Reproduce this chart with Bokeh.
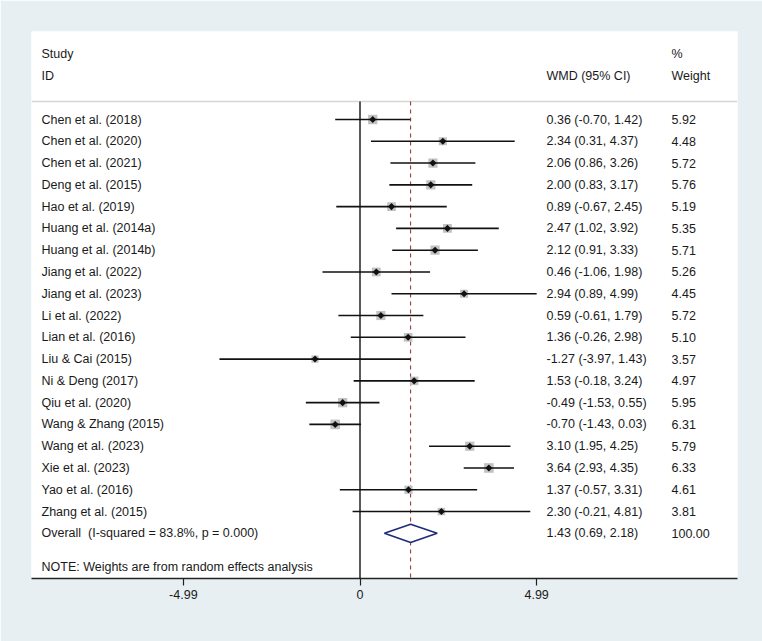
import numpy as np
from bokeh.plotting import figure
from bokeh.models import ColumnDataSource, Range1d, LinearAxis, FixedTicker
from bokeh.core.properties import value
from bokeh.embed import file_html
from bokeh.resources import INLINE

studies = ["Chen et al. (2018)", "Chen et al. (2020)", "Chen et al. (2021)", "Deng et al. (2015)",
           "Hao et al. (2019)", "Huang et al. (2014a)", "Huang et al. (2014b)", "Jiang et al. (2022)",
           "Jiang et al. (2023)", "Li et al. (2022)", "Lian et al. (2016)", "Liu & Cai (2015)",
           "Ni & Deng (2017)", "Qiu et al. (2020)", "Wang & Zhang (2015)", "Wang et al. (2023)",
           "Xie et al. (2023)", "Yao et al. (2016)", "Zhang et al. (2015)"]
wmd = [0.36, 2.34, 2.06, 2.00, 0.89, 2.47, 2.12, 0.46, 2.94, 0.59, 1.36, -1.27, 1.53, -0.49, -0.70, 3.10, 3.64, 1.37, 2.30]
lower = [-0.70, 0.31, 0.86, 0.83, -0.67, 1.02, 0.91, -1.06, 0.89, -0.61, -0.26, -3.97, -0.18, -1.53, -1.43, 1.95, 2.93, -0.57, -0.21]
upper = [1.42, 4.37, 3.26, 3.17, 2.45, 3.92, 3.33, 1.98, 4.99, 1.79, 2.98, 1.43, 3.24, 0.55, 0.03, 4.25, 4.35, 3.31, 4.81]
weight = [5.92, 4.48, 5.72, 5.76, 5.19, 5.35, 5.71, 5.26, 4.45, 5.72, 5.10, 3.57, 4.97, 5.95, 6.31, 5.79, 6.33, 4.61, 3.81]
overall_label = "Overall\u00a0 (I-squared = 83.8%, p = 0.000)"
overall_wmd, overall_lo, overall_hi, overall_w = 1.43, 0.69, 2.18, 100.00
note = "NOTE: Weights are from random effects analysis"
ticks = [-4.99, 0, 4.99]

FONT = "Liberation Sans"
FS = "12.5px"
TXT = "#1a1a1a"
BG = "#e8eff2"

n = len(studies)
rows = list(range(n))
overall_row = n

# x mapping: frame 31..737 px, zero at 359.5, 35.4 px per unit
pxu = 35.4
x0 = 359.5
xl = (31 - x0) / pxu
xr = (737 - x0) / pxu
# y mapping: row 0 at px 119, spacing 21.78
ry = 21.78
y_top = (31 - 119) / ry
y_bot = (578 - 119) / ry

p = figure(width=762, height=641, output_backend="svg", toolbar_location=None,
           x_range=Range1d(xl, xr), y_range=Range1d(y_bot, y_top),
           x_axis_type=None, y_axis_type=None,
           min_border_left=31, min_border_right=25, min_border_top=31, min_border_bottom=63)
p.border_fill_color = BG
p.background_fill_color = "white"
p.outline_line_color = None
p.grid.visible = False

col_study = (41 - x0) / pxu
col_wmd = (546 - x0) / pxu
col_w = (671 - x0) / pxu
y_sep = (101 - 119) / ry
y_h1 = (53 - 119) / ry
y_h2 = (75 - 119) / ry
y_note = (566 - 119) / ry

# separator
p.segment(x0=[xl], x1=[xr], y0=[y_sep], y1=[y_sep], line_color="#d6d6d6", line_width=1.5)
# zero line
p.segment(x0=[0], x1=[0], y0=[y_sep], y1=[y_bot], line_color="#222222", line_width=1.5)
# overall dashed line
p.segment(x0=[overall_wmd], x1=[overall_wmd], y0=[y_sep], y1=[y_bot], line_color="#8b2a2a",
          line_width=1, line_dash="4 4")

src = ColumnDataSource(dict(y=rows, est=wmd, lo=lower, hi=upper, w=weight,
                            size=[9.3 * np.sqrt(w / 5.92) for w in weight]))
p.scatter(x="est", y="y", size="size", marker="square", source=src,
          fill_color="#c2c2c2", line_color=None)
p.segment(x0="lo", x1="hi", y0="y", y1="y", source=src, line_color="#111111", line_width=1.6)
p.scatter(x="est", y="y", size=5, marker="square", angle=np.pi / 4, source=src,
          fill_color="#111111", line_color=None)

# overall diamond
dh = 0.42
p.patch(x=[overall_lo, overall_wmd, overall_hi, overall_wmd],
        y=[overall_row, overall_row - dh, overall_row, overall_row + dh],
        fill_color="white", line_color="#1f2a78", line_width=1.6)

# texts
labels = studies + [overall_label]
ci_txt = ["%.2f (%.2f, %.2f)" % (e, l, h) for e, l, h in zip(wmd, lower, upper)] + \
         ["%.2f (%.2f, %.2f)" % (overall_wmd, overall_lo, overall_hi)]
w_txt = ["%.2f" % w for w in weight] + ["%.2f" % overall_w]
yy = rows + [overall_row]

tsrc = ColumnDataSource(dict(y=yy, lab=labels, ci=ci_txt, wt=w_txt))
common = dict(text_font=value(FONT), text_font_size=FS, text_color=TXT,
              text_baseline="middle", text_align="left")
p.text(x=col_study, y="y", text="lab", source=tsrc, **common)
p.text(x=col_wmd, y="y", text="ci", source=tsrc, **common)
p.text(x=col_w, y="y", text="wt", source=tsrc, **common)

p.text(x=[col_study, col_study, col_wmd, col_w, col_w, col_study],
       y=[y_h1, y_h2, y_h2, y_h1, y_h2, y_note],
       text=["Study", "ID", "WMD (95% CI)", "%", "Weight", note], **common)

ax = LinearAxis(ticker=FixedTicker(ticks=ticks))
ax.major_label_overrides = {t: ("%g" % t) for t in ticks}
ax.axis_line_color = "#222222"
ax.axis_line_width = 1.5
ax.major_tick_line_color = "#222222"
ax.major_tick_line_width = 1.2
ax.major_tick_in = 0
ax.major_tick_out = 7
ax.minor_tick_line_color = None
ax.major_label_text_font = FONT
ax.major_label_text_font_size = FS
ax.major_label_text_color = TXT
ax.major_label_standoff = 4
p.add_layout(ax, "below")

open("out.html", "w").write(file_html(p, INLINE))
